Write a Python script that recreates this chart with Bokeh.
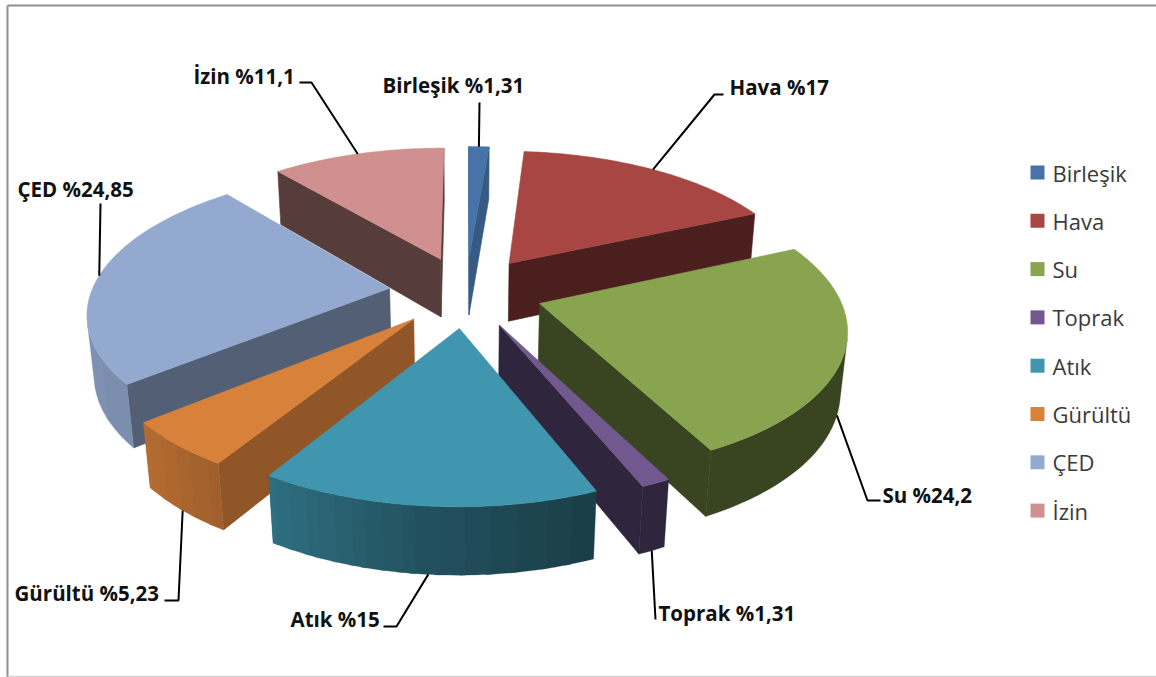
import numpy as np
from bokeh.plotting import figure
from bokeh.core.properties import value
from bokeh.embed import file_html
from bokeh.resources import INLINE

# Share of each topic, in percent
categories = ["Birleşik", "Hava", "Su", "Toprak", "Atık", "Gürültü", "ÇED", "İzin"]
shares = [1.31, 17, 24.2, 1.31, 15, 5.23, 24.85, 11.1]
top_colors = ["#4673A8", "#A84644", "#88A44F", "#71588F", "#3F96AE", "#D8813B", "#93A9CF", "#D09090"]

# Shade factor of the flat cut wall of each wedge
cut_shade = [0.78, 0.44, 0.42, 0.42, 0.42, 0.67, 0.56, 0.42]

# Camera and pie proportions
CX, CY = 465.5, 291.0
RADIUS, EXPLODE, THICK = 298.0, 77.0, 68.0
SIN_T = 0.462
COS_T = float(np.sqrt(1 - SIN_T ** 2))
DIST = 1700.0


def project(x, y, z):
    """Perspective projection: y points at the viewer, z points up."""
    q = y * COS_T + z * SIN_T
    s = DIST / (DIST - q)
    return CX + s * x, CY + s * (y * SIN_T - z * COS_T)


def polar(t, r):
    a = np.radians(t)
    return r * np.sin(a), -r * np.cos(a)


def hex_rgb(c):
    return tuple(int(c[i:i + 2], 16) for i in (1, 3, 5))


def shaded(c, f):
    return "#%02x%02x%02x" % tuple(int(round(v * f)) for v in hex_rgb(c))


def rim_shade(t):
    # Flat dark up to the lower right, then lighter towards the left of the pie
    f = float(np.interp(t, [60, 160, 185, 212, 231, 275], [0.42, 0.42, 0.54, 0.74, 0.84, 0.88]))
    return round(f * 50) / 50


def signed_area(pts):
    x = np.array([p[0] for p in pts])
    y = np.array([p[1] for p in pts])
    return float(np.sum(x * np.roll(y, -1) - np.roll(x, -1) * y))


p = figure(width=1156, height=677, x_range=(0, 1156), y_range=(677, 0),
           output_backend="svg", toolbar_location=None, min_border=0,
           x_axis_location=None, y_axis_location=None,
           background_fill_color="white", border_fill_color="white", outline_line_color=None)
p.grid.visible = False

# Chart frame
p.line([7, 7], [5, 677], line_color="#8f8f8f", line_width=2)
p.line([7, 1156], [5, 5], line_color="#8f8f8f", line_width=2)
p.line([7, 1156], [676, 676], line_color="#d4d4d4", line_width=1.5)

edges = np.cumsum([0] + shares) / sum(shares) * 360.0
wedges = []
for i, name in enumerate(categories):
    t0, t1 = edges[i], edges[i + 1]
    mid = (t0 + t1) / 2
    wedges.append(dict(i=i, t0=t0, t1=t1, mid=mid, ox=polar(mid, EXPLODE)[0], oy=polar(mid, EXPLODE)[1]))


def point(w, t, r, z):
    x, y = polar(t, r)
    return project(w["ox"] + x, w["oy"] + y, z)


def fill(pts, color, width=0.6):
    p.patch([a for a, _ in pts], [b for _, b in pts], fill_color=color, line_color=color, line_width=width)


def rim_band(w, ta, tb, color):
    """Outer wall between two angles, as one polygon that follows the curve."""
    sweep = np.linspace(ta, tb, max(2, int((tb - ta) / 1.5) + 2))
    upper = [point(w, t, RADIUS, 0) for t in sweep]
    lower = [point(w, t, RADIUS, -THICK) for t in sweep[::-1]]
    fill(upper + lower, color, 0.3)


# Back wedges are painted first so the nearer ones cover them
for w in sorted(wedges, key=lambda w: -np.cos(np.radians(w["mid"]))):
    base = top_colors[w["i"]]
    cut = shaded(base, cut_shade[w["i"]])
    a_top, a_bot = point(w, 0, 0, 0), point(w, 0, 0, -THICK)
    for quad in (
        [a_top, point(w, w["t0"], RADIUS, 0), point(w, w["t0"], RADIUS, -THICK), a_bot],
        [point(w, w["t1"], RADIUS, 0), a_top, a_bot, point(w, w["t1"], RADIUS, -THICK)],
    ):
        if signed_area(quad) < 0:
            fill(quad, cut)

    ts = np.linspace(w["t0"], w["t1"], max(3, int((w["t1"] - w["t0"]) / 1.0)) + 1)
    # Keep only the stretches of outer wall that face the viewer, grouped by shade
    visible = [(a, b) for a, b in zip(ts[:-1], ts[1:])
               if signed_area([point(w, a, RADIUS, 0), point(w, b, RADIUS, 0),
                               point(w, b, RADIUS, -THICK), point(w, a, RADIUS, -THICK)]) < 0]
    if visible:
        start, stop = visible[0]
        level = rim_shade((start + stop) / 2)
        for a, b in visible[1:]:
            now = rim_shade((a + b) / 2)
            if now != level:
                # Each new band starts just under the previous one to close the seam
                rim_band(w, start, min(b, w["t1"]), shaded(base, level))
                start, level = a, now
            stop = b
        rim_band(w, start, stop, shaded(base, level))

    fill([a_top] + [point(w, t, RADIUS, 0) for t in ts], base)

# Callouts: bend and end of each leader, then the label's left edge and centre line
leader_tail = [
    [(479, 102)],
    [(714, 94), (723, 94)],
    [(867, 500), (880, 500)],
    [(655, 619)],
    [(396, 626), (383, 626)],
    [(178, 600), (164, 600)],
    [(100, 203)],
    [(311, 82), (299, 82)],
]
label_x = [382, 729, 882, 658, 290, 14, 17, 193]
label_y = [84, 86, 494, 612, 618, 592, 188, 75]

for w, tail in zip(wedges, leader_tail):
    z = -THICK if np.cos(np.radians(w["mid"])) < 0 else 0
    start = point(w, w["mid"], RADIUS, z)
    path = [start] + tail
    p.line([a for a, _ in path], [b for _, b in path], line_color="black", line_width=2)

labels = [f"{n} %{v}".replace(".", ",") for n, v in zip(categories, shares)]
p.text(x=label_x, y=label_y, text=labels, text_font=value("Open Sans"), text_font_style="bold",
       text_font_size="20.5px", text_color="#111111", text_baseline="middle", text_align="left")

# Legend
legend_y = [172 + k * 48.3 for k in range(len(categories))]
p.rect(x=[1037] * len(categories), y=legend_y, width=14, height=14, fill_color=top_colors, line_color=None)
p.text(x=[1052] * len(categories), y=legend_y, text=categories, text_font=value("Open Sans"),
       text_font_size="22px", text_color="#3a3a3a", text_baseline="middle", text_align="left")

open("out.html", "w").write(file_html(p, INLINE))
